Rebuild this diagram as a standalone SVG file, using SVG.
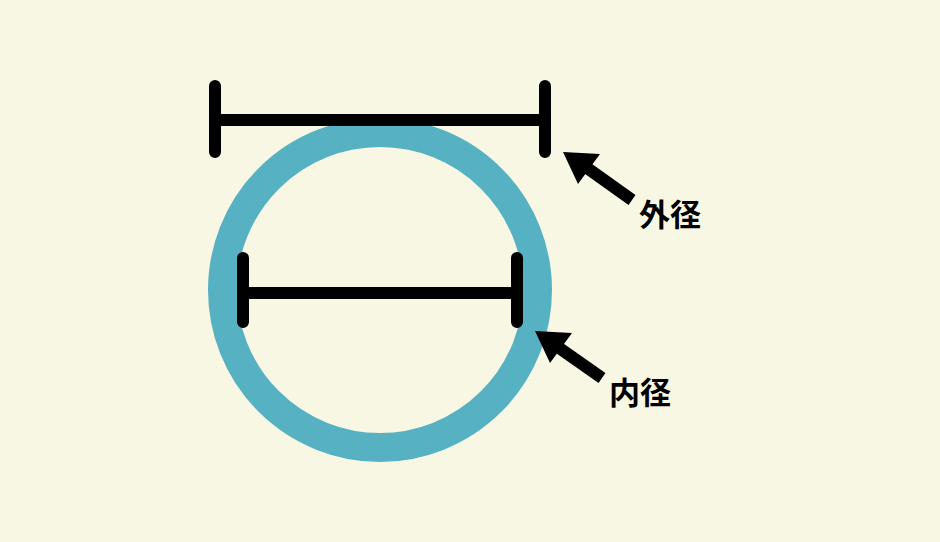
<svg xmlns="http://www.w3.org/2000/svg" width="940" height="542" viewBox="0 0 940 542">
<style>
.bar{stroke:#000;stroke-width:12;stroke-linecap:round;fill:none}
.sh{stroke:#000;stroke-width:12;fill:none}
.lbl{font-family:"Noto Sans CJK JP","Noto Sans CJK SC",sans-serif;font-weight:bold;font-size:31px;fill:#000}
</style>
<rect width="940" height="542" fill="#f8f7e4"/>
<g id="ring"><circle cx="380" cy="290" r="157.5" fill="none" stroke="#56b2c2" stroke-width="29"/></g>
<g id="connectors">
<g id="outer-bar"><path class="bar" d="M215 120H545M215 86V152M545 86V152"/></g>
<g id="inner-bar"><path class="bar" d="M243 293H517M243 258V322M517 258V322"/></g>
<g id="arrow1"><path class="sh" d="M632 200L583 165"/><polygon points="563,152 600,154 578,184"/></g>
<g id="arrow2"><path class="sh" d="M602 378L555 345"/><polygon points="535,331 572,333 550,363"/></g>
</g>
<g id="label-outer"><text class="lbl" x="639" y="226">外径</text></g>
<g id="label-inner"><text class="lbl" x="609" y="404">内径</text></g>
</svg>
